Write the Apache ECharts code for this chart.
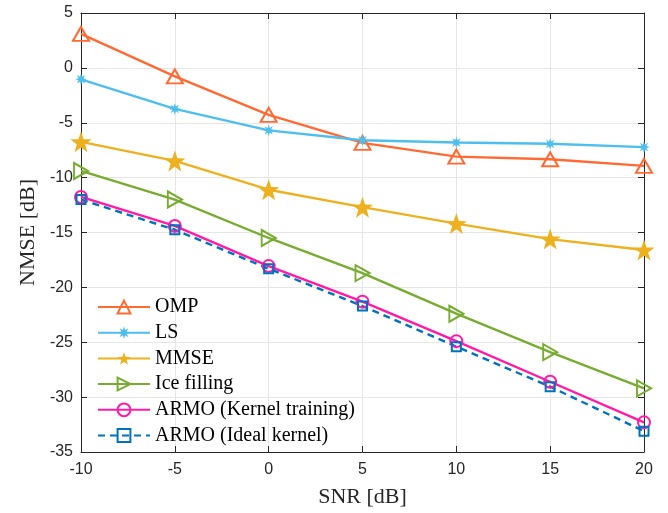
<!DOCTYPE html>
<html>
<head>
<meta charset="utf-8">
<script src="https://cdn.jsdelivr.net/npm/echarts@6/dist/echarts.min.js"></script>
<style>html,body{margin:0;padding:0;background:#fff}#c{width:668px;height:513px}</style>
</head>
<body>
<div id="c"></div>
<script>
var snr = [-10, -5, 0, 5, 10, 15, 20];
var omp = [3.1, -0.77, -4.28, -6.83, -8.09, -8.33, -8.93];
var ls = [-1.04, -3.74, -5.69, -6.59, -6.8, -6.92, -7.22];
var mmse = [-6.74, -8.48, -11.1, -12.69, -14.19, -15.6, -16.6];
var ice = [-9.39, -12.0, -15.5, -18.7, -22.4, -25.9, -29.2];
var armoKernel = [-11.76, -14.4, -18.06, -21.3, -24.9, -28.6, -32.3];
var armoIdeal = [-12.0, -14.75, -18.3, -21.7, -25.4, -29.05, -33.1];
var names = ['OMP', 'LS', 'MMSE', 'Ice filling', 'ARMO (Kernel training)', 'ARMO (Ideal kernel)'];

function pts(arr){ return snr.map(function(x,i){ return [x, arr[i]]; }); }

var STAR = 'path://M50,0 L61.76,33.82 L97.55,34.55 L69.02,56.18 L79.39,90.45 L50,70 L20.61,90.45 L30.98,56.18 L2.45,34.55 L38.24,33.82 Z';
var AST = 'path://M100,50 L70.33,58.42 L85.36,85.36 L58.42,70.33 L50,100 L41.58,70.33 L14.64,85.36 L29.67,58.42 L0,50 L29.67,41.58 L14.64,14.64 L41.58,29.67 L50,0 L58.42,29.67 L85.36,14.64 L70.33,41.58 Z';
var RTRI = 'path://M0,0 L86,50 L0,100 Z';
var TRI = 'path://M50,0 L100,86 L0,86 Z';

function ser(name, data, color, symbol, size, hollow, dashed){
  return {
    name: name, type: 'line', data: pts(data),
    symbol: symbol, symbolSize: size, showSymbol: true,
    lineStyle: {color: color, width: 2.4, type: dashed ? [7,5] : 'solid'},
    itemStyle: hollow ? {color: 'rgba(255,255,255,0)', borderColor: color, borderWidth: 2} : {color: color, borderWidth: 0},
    emphasis: {disabled: true},
    animation: false
  };
}

var axisCol = '#262626';
var chart = echarts.init(document.getElementById('c'), null, {renderer: 'canvas'});
chart.setOption({
  backgroundColor: '#fff',
  animation: false,
  grid: {left: 81, right: 24, top: 13, bottom: 56, containLabel: false},
  legend: {
    orient: 'vertical', left: 92, top: 292, itemWidth: 52, itemHeight: 16, itemGap: 5.7,
    backgroundColor: 'transparent', borderWidth: 0,
    textStyle: {fontFamily: 'Liberation Serif', fontSize: 20, color: '#000'},
    data: names
  },
  xAxis: [{
    type: 'value', min: -10, max: 20, interval: 5, position: 'bottom',
    axisLine: {show: true, onZero: false, lineStyle: {color: axisCol, width: 1}},
    axisTick: {show: true, inside: true, length: 6, lineStyle: {color: axisCol}},
    axisLabel: {color: axisCol, fontFamily: 'Liberation Sans', fontSize: 16, margin: 10},
    splitLine: {show: true, lineStyle: {color: '#e6e6e6', width: 1}},
    name: 'SNR [dB]', nameLocation: 'middle', nameGap: 34,
    nameTextStyle: {fontFamily: 'Liberation Serif', fontSize: 22, color: axisCol}
  }, {
    type: 'value', min: -10, max: 20, interval: 5, position: 'top',
    axisLine: {show: true, onZero: false, lineStyle: {color: axisCol, width: 1}},
    axisTick: {show: true, inside: true, length: 6, lineStyle: {color: axisCol}},
    axisLabel: {show: false}, splitLine: {show: false}
  }],
  yAxis: [{
    type: 'value', min: -35, max: 5, interval: 5, position: 'left',
    axisLine: {show: true, onZero: false, lineStyle: {color: axisCol, width: 1}},
    axisTick: {show: true, inside: true, length: 6, lineStyle: {color: axisCol}},
    axisLabel: {color: axisCol, fontFamily: 'Liberation Sans', fontSize: 16, margin: 8},
    splitLine: {show: true, lineStyle: {color: '#e6e6e6', width: 1}},
    name: 'NMSE [dB]', nameLocation: 'middle', nameGap: 39, nameRotate: 90,
    nameTextStyle: {fontFamily: 'Liberation Serif', fontSize: 22, color: axisCol}
  }, {
    type: 'value', min: -35, max: 5, interval: 5, position: 'right',
    axisLine: {show: true, onZero: false, lineStyle: {color: axisCol, width: 1}},
    axisTick: {show: true, inside: true, length: 6, lineStyle: {color: axisCol}},
    axisLabel: {show: false}, splitLine: {show: false}
  }],
  series: [
    ser(names[0], omp, '#FF6A33', TRI, [16, 14], true, false),
    ser(names[1], ls, '#4DBEEE', AST, 12, false, false),
    ser(names[2], mmse, '#EDB120', STAR, 21, false, false),
    ser(names[3], ice, '#77AC30', RTRI, [14, 16], true, false),
    ser(names[4], armoKernel, '#FF1AA8', 'circle', 12, true, false),
    ser(names[5], armoIdeal, '#0072BD', 'rect', 9, true, true)
  ]
});
</script>
</body>
</html>
